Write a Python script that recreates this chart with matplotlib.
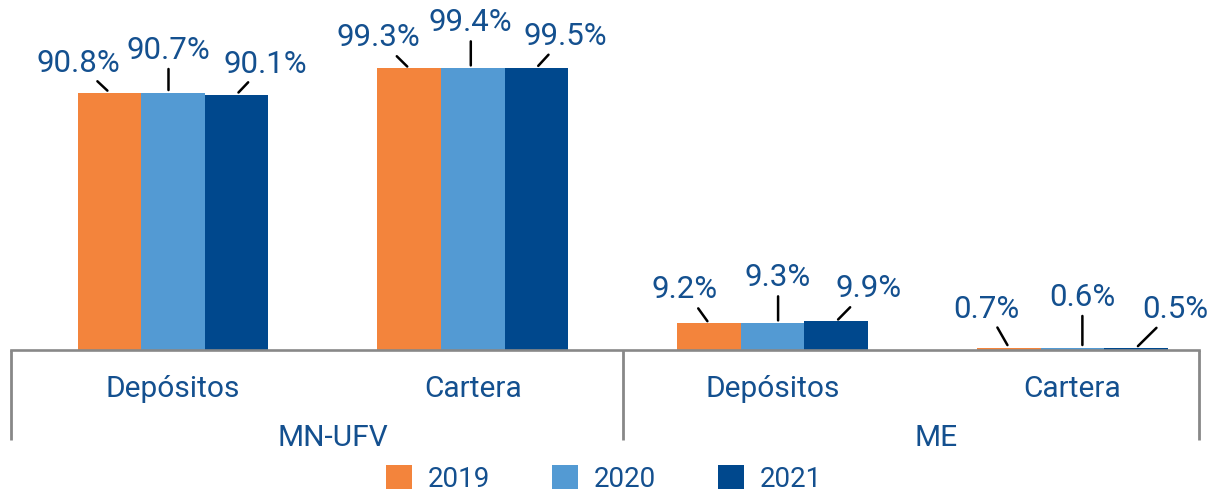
import matplotlib
matplotlib.use("Agg")
import matplotlib.pyplot as plt
from matplotlib.patches import Patch
from matplotlib import transforms
import numpy as np

plt.rcParams['font.family'] = ['Roboto', 'DejaVu Sans']

# ---- data ----
categories = ["Depósitos", "Cartera", "Depósitos", "Cartera"]
groups = ["MN-UFV", "ME"]
series_names = ["2019", "2020", "2021"]
v2019 = [90.8, 99.3, 9.2, 0.7]
v2020 = [90.7, 99.4, 9.3, 0.6]
v2021 = [90.1, 99.5, 9.9, 0.5]
series_values = [v2019, v2020, v2021]

# ---- style ----
colors = ["#F3843C", "#539AD3", "#00488D"]
text_color = "#14508F"
axis_gray = "#888888"
fs_axis = 21.5
fs_lab = 22.5

# label offsets (pixels) of label centre from bar top-centre: (dx, up)
label_offsets = [
    [(-31.5, 32), (-4.5, 45), (29, 33)],
    [(-31, 33), (-2, 48), (29, 34)],
    [(-24, 36), (5.5, 48), (32, 35)],
    [(-22, 41), (10, 53), (39, 41)],
]

W, H = 1214, 494
fig = plt.figure(figsize=(W / 100, H / 100), dpi=100)
ax_bottom_px = 349.5
ax = fig.add_axes([10.5 / W, (H - ax_bottom_px) / H, (1199.5 - 10.5) / W, ax_bottom_px / H])

x = np.arange(len(categories))
bw = 0.212
ax.set_xlim(-0.542, 3.424)
ax.set_ylim(0, 123.5)

for si, vals in enumerate(series_values):
    ax.bar(x + (si - 1) * bw, vals, bw, color=colors[si], zorder=2)

for gi in range(len(categories)):
    for si, vals in enumerate(series_values):
        bx = x[gi] + (si - 1) * bw
        val = vals[gi]
        dx, up = label_offsets[gi][si]
        if abs(dx) < 15:
            xyc = transforms.offset_copy(ax.transData, fig=fig, x=dx, y=0, units='dots')
            xt = (0, up - 11)
        else:
            xyc = ax.transData
            xt = (dx, up - 11)
        ax.annotate(f"{val:.1f}%", xy=(bx, val), xycoords=xyc,
                    xytext=xt, textcoords='offset pixels',
                    ha='center', va='baseline', fontsize=fs_lab, color=text_color,
                    arrowprops=dict(arrowstyle='-', color='black', lw=1.8,
                                    shrinkA=-1, shrinkB=2),
                    annotation_clip=False)

# axes styling
for s in ['top', 'right', 'left']:
    ax.spines[s].set_visible(False)
ax.spines['bottom'].set_color(axis_gray)
ax.spines['bottom'].set_linewidth(1.9)
ax.set_yticks([])
ax.set_xticks([])

trans = ax.get_xaxis_transform()
sep_bottom = (ax_bottom_px - 440) / ax_bottom_px
for sx in [-0.542, 1.5, 3.424]:
    ax.plot([sx, sx], [0, sep_bottom], transform=trans, color=axis_gray,
            lw=2.0, clip_on=False, solid_capstyle='butt')

cat_y = (ax_bottom_px - 397) / ax_bottom_px
for xi, c in zip(x, categories):
    ax.text(xi, cat_y, c, transform=trans, ha='center', va='baseline',
            fontsize=fs_axis, color=text_color)

grp_y = (ax_bottom_px - 446) / ax_bottom_px
for gx, g in zip([0.534, 2.545], groups):
    ax.text(gx, grp_y, g, transform=trans, ha='center', va='baseline',
            fontsize=fs_axis, color=text_color)

handles = [Patch(facecolor=c, edgecolor='none') for c in colors]
leg = fig.legend(handles, series_names, loc='center', bbox_to_anchor=(604 / W, (H - 479) / H),
                 ncol=3, frameon=False, fontsize=20, handlelength=0.94, handleheight=0.94,
                 handletextpad=0.55, columnspacing=2.25, borderpad=0, borderaxespad=0)
for t in leg.get_texts():
    t.set_color(text_color)

fig.savefig("out.png", dpi=100)
